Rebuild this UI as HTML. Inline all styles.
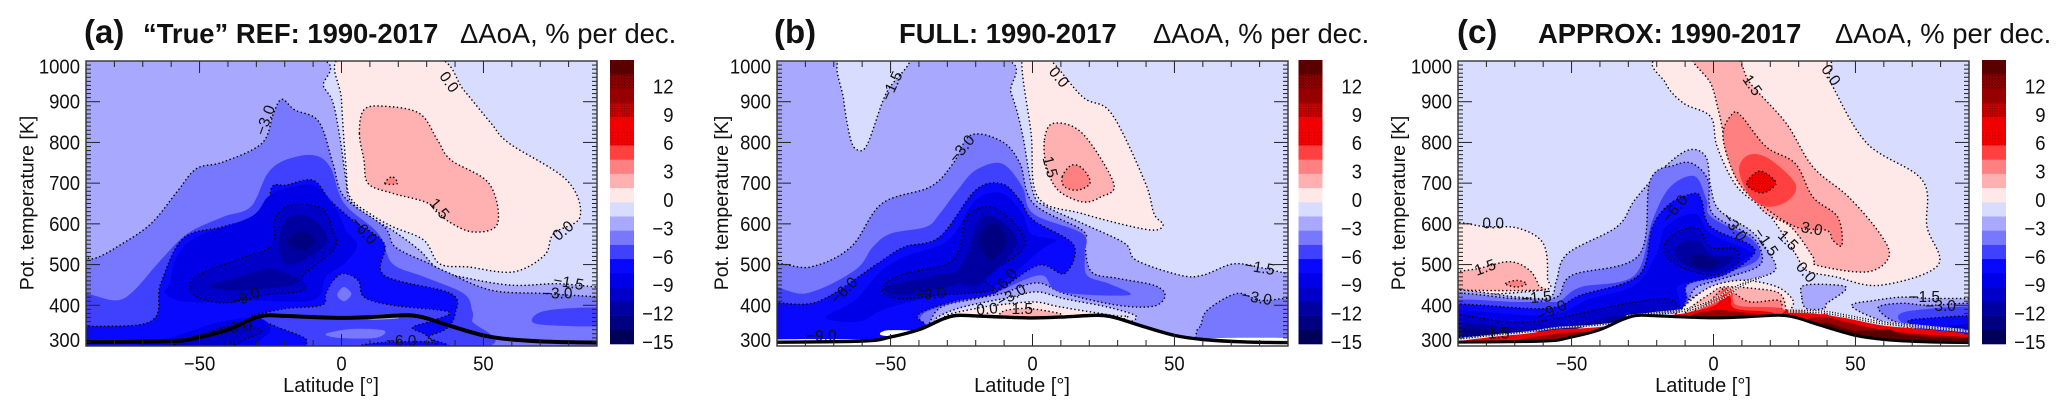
<!DOCTYPE html>
<html lang="en">
<head>
<meta charset="utf-8">
<title>Delta AoA trends 1990-2017</title>
<style>
html,body{margin:0;padding:0;background:#fff;width:2067px;height:415px;overflow:hidden}
svg{display:block}
text{font-family:"Liberation Sans",sans-serif;fill:#111}
</style>
</head>
<body>
<svg id="chart" xmlns="http://www.w3.org/2000/svg" width="2067" height="415" viewBox="0 0 2067 415">
<defs>
<pattern id="dither-a" width="3" height="3" patternUnits="userSpaceOnUse"><rect width="3" height="3" fill="#f00000"/><rect width="1" height="1" fill="#c00000"/></pattern>
<pattern id="dither-b" width="2.4" height="2.4" patternUnits="userSpaceOnUse"><rect width="2.4" height="2.4" fill="#c80000"/><rect width="1" height="1" fill="#780000"/></pattern>
<pattern id="dither-c" width="3" height="3" patternUnits="userSpaceOnUse"><rect width="3" height="3" fill="#860000"/><rect width="1" height="1" fill="#500000"/></pattern>
</defs>
</svg>
<script>
// ---- data ----
const latTickValues = [-50, 0, 50];
const thetaTickValues = [300, 400, 500, 600, 700, 800, 900, 1000];
const colorbarTickValues = [-15, -12, -9, -6, -3, 0, 3, 6, 9, 12];
const levelMin = -15;
const levelStep = 1.5;
const bandColors = ['#000058','#000080','#0000a0','#0000c8','#0000e8','#0808ff','#4040ff','#7878ff','#a8a8ff','#d8dcff','#ffe8e8','#ffb0b0','#ff8080','#ff4040','url(#dither-a)','#f00000','url(#dither-b)','#960000','url(#dither-c)','#5a0000'];
const tropopause = [[-96,309],[-60,312],[-50,322],[-40,340],[-32,365],[-27,375],[-20,374],[-10,371],[0,369],[10,371],[20,375],[25,375],[30,368],[38,350],[50,326],[60,316],[75,310],[96,308]];

// regions: [band mid value, dotted contour 0/1, [[lat, theta], ...]] painted in order
const regionsA = [
[-0.75,0,[[-96,280],[96,280],[96,1010],[-96,1010]]],
[-2.25,1,[[-11.8,1010],[-6.3,937],[-3.1,900],[-0.8,822],[1.6,707],[3,658],[10,617],[18,584],[27.5,535],[34.6,486],[44.8,466],[60.5,449],[76,453],[90,445],[96,445],[96,280],[-96,280],[-96,1010]]],
[-3.75,1,[[-96,507],[-87,515],[-78,548],[-67,601],[-57.5,683],[-51,736],[-41.7,752],[-28,798],[-24,871],[-21,906],[-16.5,880],[-8,851],[-3,748],[1,666],[15,593],[19,543],[31,502],[37,482],[52.7,437],[71.5,429],[90,421],[96,421],[96,280],[-96,280]]],
[-5.25,0,[[-96,429],[-90,429],[-79.4,412],[-73,437],[-63.7,511],[-54.2,576],[-41.7,617],[-32,642],[-26,724],[-19.7,757],[-10,769],[-4,740],[1,650],[13,576],[18,502],[29,470],[43,429],[46,388],[46,363],[43,290],[-96,290]]],
[-5.25,0,[[67,363],[73,388],[96,392],[96,352],[73,351]]],
[-6.75,1,[[-96,343],[-67.6,359],[-63.7,453],[-55.8,564],[-41.7,593],[-27.5,625],[-24.4,691],[-19.7,695],[-10,707],[-4,658],[4,609],[15,552],[15,474],[38.5,429],[40,379],[37,343],[30.7,322],[28,290],[-96,290]]],
[-5.25,1,[[-30.7,375],[-19.7,392],[-7,400],[-5.5,429],[-3,460],[0.8,478],[6,460],[8,420],[18,400],[37.7,384],[32,362],[25,345],[30,325],[30,290],[-8,290],[-13,320],[-22,345],[-31,372]]],
[-3.75,0,[[-1.5,425],[0.8,445],[3.5,428],[1,410]]],
[-3.75,0,[[-5.5,330],[4,342],[15,338],[12,320],[-1,320]]],
[-2.25,0,[[9,374],[16,378],[20,368],[10,365]]],
[-6.75,1,[[7,290],[10,306],[30.7,310],[32,290]]],
[-8.25,0,[[-75,290],[-60,320],[-45,355],[-30,370],[-25,340],[-30,305],[-28,290]]],
[-9.75,1,[[-52,322],[-42,345],[-33,350],[-28,335],[-33,320],[-42,295],[-60,295]]],
[-8.25,0,[[-60.5,453],[-58,519],[-51,568],[-32,617],[-26,666],[-19.7,687],[-10,695],[-3,650],[1.6,584],[5.5,548],[1,502],[-5.5,470],[-10,412],[-32,412],[-54,408],[-62,429]]],
[-9.75,1,[[-53.5,445],[-49.5,478],[-35.4,515],[-24.4,548],[-23.6,609],[-18,646],[-7,638],[-3,584],[-2.4,539],[-13.4,474],[-13.4,437],[-27.5,425],[-40,406],[-49.5,416]]],
[-11.25,0,[[-46.4,449],[-35.4,470],[-26,490],[-16.5,470],[-15.7,453],[-26,441],[-40,437]]],
[-11.25,0,[[-22,548],[-19.7,609],[-13.4,621],[-7,593],[-5.5,552],[-13.4,511],[-19.7,502]]],
[-12.75,0,[[-19,556],[-14,580],[-9.4,560],[-13.4,534]]],
[0.75,1,[[0,1010],[33,1010],[43,929],[52.7,847],[59,798],[79.4,707],[84,617],[74.7,576],[71.5,523],[60.5,482],[44.8,494],[34.6,502],[29,560],[18,593],[10,625],[3,666],[1.6,740],[0,904]]],
[2.25,1,[[6.3,822],[7.9,880],[15,889],[27.5,871],[33.8,806],[38.5,757],[52,699],[55,601],[46.4,580],[37,609],[30.7,650],[18,675],[9.4,699],[7.9,757]]],
[3.75,1,[[15.3,699],[17.8,716],[19.7,699]]]
];

const regionsB = [
[-0.75,0,[[-96,280],[96,280],[96,1010],[-96,1010]]],
[-2.25,1,[[-13.8,1010],[-7.5,920],[-3.6,822],[0.3,675],[5,642],[17.6,601],[32.5,552],[36.5,511],[52,474],[60,474],[71,502],[82,490],[90,478],[96,478],[96,280],[-96,280],[-96,1010]]],
[-0.75,1,[[-67.3,1010],[-66.5,904],[-64,806],[-61.3,781],[-58,798],[-51.6,920],[-43.7,1010]]],
[-3.75,1,[[-96,490],[-78.2,494],[-64,543],[-53,650],[-36,691],[-28,748],[-21.7,818],[-10.7,802],[-4.4,748],[0.3,650],[17.6,584],[18.4,548],[20.8,482],[30.2,466],[42.8,449],[46.7,425],[42.8,398],[30.2,400],[11.3,429],[1.6,455],[-10.7,429],[-20,416],[-32,396],[-36.6,351],[-39,290],[-96,290]]],
[-3.75,1,[[59.3,351],[61.6,388],[72,429],[80.5,412],[96,408],[96,280],[60,280],[57.7,330]]],
[-5.25,0,[[-96,445],[-80,429],[-62.6,486],[-56.3,543],[-50,576],[-37.4,593],[-32.7,625],[-26.4,683],[-20,732],[-10.7,748],[-3.6,691],[0.3,625],[17.6,576],[18.4,527],[19.2,474],[27,453],[34,425],[9.7,433],[2.7,474],[-13.8,429],[-26.4,408],[-37.4,384],[-39.8,359],[-38.2,338],[-53,290],[-96,290]]],
[-6.75,1,[[-96,400],[-76,408],[-54.7,502],[-45.3,543],[-32.7,568],[-20,683],[-10.7,698],[-4.4,658],[0.3,609],[14.5,548],[11.3,478],[1.9,498],[-13.8,429],[-26.4,412],[-37.4,388],[-40.6,371],[-38.2,343],[-53,290],[-96,290]]],
[-8.25,0,[[-72.8,371],[-62.6,412],[-53,486],[-43.7,523],[-29.6,560],[-20,658],[-10.7,675],[-3.6,625],[-0.5,576],[8.2,560],[3.5,539],[-13.8,445],[-32.7,425],[-51.6,392],[-59.4,363],[-65.7,359]]],
[-9.75,1,[[-53,437],[-46.9,474],[-28,511],[-23.3,617],[-13.8,640],[-4.4,584],[-3.6,535],[-17,470],[-13.8,437],[-32.7,425],[-46.9,416]]],
[-11.25,0,[[-27.2,470],[-23.3,519],[-18.6,609],[-13.8,617],[-7.5,584],[-6,543],[-17,461],[-23.3,449]]],
[-11.25,0,[[-51.6,445],[-42,461],[-28,478],[-26.4,453],[-42,429],[-50,429]]],
[-12.75,0,[[-18.6,552],[-16.2,593],[-12.3,599],[-9.1,556],[-14.6,512]]],
[-0.75,1,[[-34.3,359],[-26.4,392],[-7.5,420],[1.6,433],[11.3,416],[28.6,392],[36.5,367],[20,340],[-20,340]]],
[0.75,1,[[-31,371],[-20,392],[-10.7,402],[1,408],[9.7,396],[28.6,375],[33.3,371],[20,345],[-20,345]]],
[2.25,1,[[-10.7,384],[-4.4,392],[3.5,388],[10.5,375],[-1.3,363],[-10.7,367]]],
[0.75,1,[[-3.6,1010],[5,1010],[17.6,912],[27.8,871],[39.6,703],[42.8,625],[46,597],[40.4,586],[17.6,625],[1.9,666],[-0.5,822]]],
[2.25,1,[[4.2,806],[7.4,847],[17.6,822],[28.6,699],[24,666],[17.6,654],[9,683],[5,740]]],
[3.75,1,[[10.5,716],[13.7,744],[17.6,736],[20.3,701],[16,683],[11.3,691]]]
];

const whiteGapsB = [
[[-53,326],[-51.6,338],[-42,338],[-39,334],[-42,322]],
[[-96,315],[-55,315],[-55,300],[-96,300]],
[[60,318],[96,318],[96,300],[60,300]]
];

const lowerBlueEdgeC = [[-12,384],[-17,380],[-27.7,375],[-34.7,358],[-45.3,351],[-54.8,343],[-68.9,334],[-96,326]];

const regionsC = [
[-0.75,0,[[-96,280],[96,280],[96,1010],[-96,1010]]],
[0.75,1,[[-17.6,1010],[-16.8,945],[-10.5,896],[-1,863],[1.3,789],[8.3,691],[19.3,625],[28.8,527],[32.7,486],[42.9,470],[58.6,449],[79,498],[75.2,593],[73.6,707],[54,798],[41.4,945],[36.6,1010]]],
[2.25,1,[[-7.4,1010],[-1,945],[2,871],[5.2,789],[16.2,642],[27.2,593],[35,519],[36.6,498],[54,482],[61.8,519],[58.6,576],[47.6,666],[35,740],[25.6,847],[13,945],[7.5,1010]]],
[3.75,1,[[3.3,814],[6.8,871],[10,863],[18.6,789],[28.8,748],[35,666],[43.7,617],[45.3,548],[42,560],[39.8,584],[28.8,593],[16.2,650],[8.3,707]]],
[5.25,0,[[9,732],[12.3,769],[19.3,761],[28.8,699],[26.4,658],[19.3,642],[13,666]]],
[6.75,1,[[11.8,703],[15.4,728],[18.6,724],[22,699],[17.5,676],[13,687]]],
[0.75,1,[[-96,593],[-80,593],[-68.7,589],[-60,552],[-58.5,470],[-60.8,437],[-96,441]]],
[2.25,1,[[-96,474],[-83,490],[-71.8,507],[-64.8,486],[-61.6,449],[-62,437],[-96,441]]],
[3.75,1,[[-73.3,453],[-69.4,461],[-65.8,453],[-69.4,445]]],
[-2.25,1,[[-96,433],[-68.7,420],[-57.7,420],[-55.3,461],[-51.4,527],[-34,593],[-27.8,658],[-18.4,732],[-9,781],[-2.7,765],[-1,691],[2,634],[13,584],[18.6,539],[21.7,486],[11.5,461],[0.5,445],[-9,412],...lowerBlueEdgeC]],
[-3.75,1,[[-96,425],[-68.7,416],[-55.3,420],[-49.8,474],[-26.3,523],[-22.3,707],[-13.7,744],[-7.4,748],[-1.9,707],[-0.3,625],[13,572],[17,527],[15.4,494],[3.6,466],[-5.8,445],[-9,412],...lowerBlueEdgeC]],
[-5.25,0,[[-96,408],[-68.7,408],[-57.7,408],[-53.8,412],[-46.7,445],[-27.8,474],[-21.5,609],[-15.2,691],[-6.6,717],[-2.4,658],[-0.8,617],[13.8,560],[15.4,511],[2,474],[-9,449],[-9,412],...lowerBlueEdgeC]],
[-6.75,1,[[-96,400],[-59.3,392],[-46.7,425],[-26.3,474],[-21.5,593],[-15.2,650],[-6.6,675],[-4.2,658],[-1,593],[13,548],[13.4,519],[3.6,474],[-9,453],[-9.7,416],...lowerBlueEdgeC]],
[-8.25,0,[[-96,388],[-59.3,375],[-43.5,416],[-27.8,449],[-20,527],[-16.8,593],[-6.6,625],[-1,576],[12.3,535],[11.5,515],[-1,470],[-12,449],[-12,412],...lowerBlueEdgeC]],
[-9.75,1,[[-96,380],[-72,359],[-56,367],[-34,400],[-16.8,416],[-12,392],...lowerBlueEdgeC]],
[-9.75,1,[[-17.6,539],[-13.7,576],[-5.8,589],[-1,543],[7.5,539],[8.3,502],[-1,474],[-13.7,502]]],
[-11.25,0,[[-96,359],[-59,343],[-34,375],[-18,388],[-15,384],[-17,380],[-27.7,375],[-34.7,358],[-45.3,351],[-54.8,343],[-68.9,334],[-96,326]]],
[-12.75,0,[[-96,345],[-59,335],[-40,355],[-30,370],[-34.7,358],[-45.3,351],[-54.8,343],[-68.9,334],[-96,326]]],
[-11.25,0,[[-13.7,535],[-10.5,556],[-5,556],[-1,523],[6.8,519],[3.6,494],[-2.7,482],[-10.5,502]]],
[-12.75,0,[[-8.2,515],[-4.2,523],[2,507],[-1,491],[-6.6,494]]],
[-2.25,1,[[31.1,420],[32,449],[44.5,449],[46.4,437],[39.8,404],[39,392],[32.7,392]]],
[-2.25,1,[[48.7,400],[56.8,412],[66.3,420],[75.5,417],[96,407],[96,326],[68.5,346],[55.8,371]]],
[-3.75,1,[[58,393],[66,405],[75.5,400],[96,400],[96,326],[67.4,352]]],
[-5.25,0,[[65,370],[71,388],[96,393],[96,330],[72,343]]],
[-6.75,1,[[68.5,360],[75.5,368],[96,372],[96,330],[75,340]]],
[-9.75,0,[[80,345],[96,355],[96,328]]],
[0.75,1,[[-12,384],[-5,429],[2,453],[11.5,461],[22.5,445],[28,412],[27,384],[27,360],[-12,360]]],
[2.25,1,[[-9,388],[-1,429],[3.6,445],[14.6,441],[23.3,429],[25.6,388],[25.6,360],[-9,360]]],
[3.75,1,[[-1,412],[3.6,441],[7.5,429],[13,408],[23,412],[24,388],[24,360],[-9,360]]],
[5.25,0,[[-5,388],[1.3,420],[3.6,439],[6.8,437],[8.3,400],[24,392],[24,360],[-5,360]]],
[8.25,0,[[-17,372],[-9,382],[0.5,400],[3.6,425],[6,420],[7.5,392],[19.3,384],[22,375],[22,350],[-17,350]]],
[11.25,0,[[-8,375],[0.5,388],[8.3,384],[16,375],[16,350],[-8,350]]],
[8.25,0,[[25,385],[38,378],[39,398],[40,378],[47,368],[59,351],[71,343],[88,332],[96,326],[96,290],[25,290]]],
[11.25,0,[[32,360],[40,370],[47,358],[59,340],[71,330],[88,322],[96,318],[96,290],[30,290]]],
[14.25,0,[[38,355],[50,338],[61,341],[66,331],[78,321],[96,316],[96,290],[38,290]]],
[8.25,0,[[-96,305],[-78,322],[-66,330],[-55,341],[-45,344],[-35,351],[-31,362],[-28,372],[-28,290],[-96,290]]],
[11.25,0,[[-70,312],[-55,330],[-45,335],[-35,342],[-30,345],[-30,290],[-70,290]]]
];

const denseContoursC = [
[[-31,374],[-20,382],[-9,392],[1,418],[6,440],[14,465]],
[[-26,374],[-14,382],[-6,392],[4,420],[10,448],[18,472]],
[[26,388],[38,386],[47,376],[59,360],[71,351],[88,340],[96,336]],
[[26,384],[38,381],[47,371],[59,355],[71,347],[88,336],[96,331]],
[[-96,312],[-78,326],[-66,334],[-55,345],[-45,349],[-35,356],[-30,368]]
];

// contour labels: [text, lat, theta, rotation]
const labelsA = [['−3.0',-27,855,-70],['0.0',38,949,55],['1.5',34.6,638,50],['0.0',78,584,-40],['−6.0',8,584,50],['−1.5',80,457,10],['−3.0',76,430,0],['−9.0',-34,420,-20],['−9.0',-37,347,-10],['−6.0',21,314,0]];
const labelsB = [['−1.5',-49.7,939,-65],['0.0',9.4,961,50],['−3.0',-25,785,-50],['1.5',6.3,740,75],['−6.0',-66.5,437,-45],['−9.0',-36,429,-5],['−6.0',-10,457,-50],['−3.0',-7.5,425,-30],['0.0',-16,392,-5],['1.5',-3.6,392,0],['−1.5',80,494,10],['−3.0',79,420,10],['−9.0',-74.4,326,0]];
const labelsC = [['0.0',41.5,966,55],['1.5',13.8,941,55],['−6.0',-13.7,638,-50],['3.0',34.7,589,10],['1.5',26.4,560,45],['−1.5',18.6,556,55],['−3.0',7.5,593,55],['0.0',32.7,482,50],['0.0',-77.6,602,0],['1.5',-80.5,494,-20],['−1.5',-62.4,420,-5],['−9.0',-57,388,-25],['1.5',-75.7,332,0],['−1.5',74.4,422,0],['−3.0',80,400,0]];

// ---- layout ----
const panels = [
 {id:'a',left:86,letterX:84,letter:'(a)',title:'“True” REF: 1990-2017',titleX:143,unitX:460,barLeft:610,yTitleX:33.5,regions:regionsA,labels:labelsA,mask:false,gaps:[],dense:[],lineW:4},
 {id:'b',left:777,letterX:774,letter:'(b)',title:'FULL: 1990-2017',titleX:899,unitX:1153,barLeft:1298.5,yTitleX:728,regions:regionsB,labels:labelsB,mask:true,gaps:whiteGapsB,dense:[],lineW:3.4},
 {id:'c',left:1458,letterX:1457,letter:'(c)',title:'APPROX: 1990-2017',titleX:1538,unitX:1835,barLeft:1982,yTitleX:1405,regions:regionsC,labels:labelsC,mask:true,gaps:[],dense:denseContoursC,lineW:3}
];
const plotW = 511, plotTop = 61, plotBottom = 346, barW = 24, barTop = 60, barBottom = 344;
const tickFont = 20, tickSqueeze = 0.925;
const NS = 'http://www.w3.org/2000/svg';
const root = document.getElementById('chart');

function el(tag, attrs, parent, txt){
  const n = document.createElementNS(NS, tag);
  for (const k in attrs) n.setAttribute(k, attrs[k]);
  if (txt !== undefined) n.textContent = txt;
  parent.appendChild(n);
  return n;
}
function xScale(panel, lat){ return panel.left + (lat + 90) * plotW / 180; }
function yScale(theta){ return plotBottom - (theta - 300) * (plotBottom - plotTop) / 700; }
function barScale(v){ return barBottom - (v - levelMin) * (barBottom - barTop) / (levelStep * bandColors.length); }
function bandFill(v){ return bandColors[Math.max(0, Math.min(bandColors.length - 1, Math.floor((v - levelMin) / levelStep)))]; }
function smoothPath(pts, closed){
  const n = pts.length;
  let d = 'M' + pts[0][0].toFixed(1) + ' ' + pts[0][1].toFixed(1);
  const last = closed ? n : n - 1;
  for (let i = 0; i < last; i++){
    const p0 = closed ? pts[(i - 1 + n) % n] : pts[Math.max(i - 1, 0)];
    const p1 = pts[i % n];
    const p2 = pts[(i + 1) % n];
    const p3 = closed ? pts[(i + 2) % n] : pts[Math.min(i + 2, n - 1)];
    const c1x = p1[0] + (p2[0] - p0[0]) / 6, c1y = p1[1] + (p2[1] - p0[1]) / 6;
    const c2x = p2[0] - (p3[0] - p1[0]) / 6, c2y = p2[1] - (p3[1] - p1[1]) / 6;
    d += 'C' + c1x.toFixed(1) + ' ' + c1y.toFixed(1) + ' ' + c2x.toFixed(1) + ' ' + c2y.toFixed(1) + ' ' + p2[0].toFixed(1) + ' ' + p2[1].toFixed(1);
  }
  return closed ? d + 'Z' : d;
}
function toPx(panel, pts){ return pts.map(function(p){ return [xScale(panel, p[0]), yScale(p[1])]; }); }
function fmt(v){ return String(v).replace('-', '−'); }
function squeezed(x, y){ return 'translate(' + x.toFixed(1) + ' ' + y.toFixed(1) + ') scale(' + tickSqueeze + ' 1)'; }

panels.forEach(function(panel){
  const g = el('g', {}, root);
  
  

  const clip = el('clipPath', {id:'clip-' + panel.id}, g);
  el('rect', {x:panel.left, y:plotTop, width:plotW, height:plotBottom - plotTop}, clip);

  const plot = el('g', {'clip-path':'url(#clip-' + panel.id + ')'}, g);
  
  

  panel.regions.forEach(function(r){
    const d = smoothPath(toPx(panel, r[2]), true);
    const shape = el('path', {d:d, fill:bandFill(r[0])}, plot);
    
    
    if (r[1]) {
      const line = el('path', {d:d, fill:'none', stroke:'#000', 'stroke-width':1.4, 'stroke-dasharray':'1.4 2.5'}, plot);
      
      
    }
  });

  panel.dense.forEach(function(c){
    const d = smoothPath(toPx(panel, c), false);
    const under = el('path', {d:d, fill:'none', stroke:'#fff', 'stroke-width':1.6, opacity:0.8}, plot);
    
    
    const over = el('path', {d:d, fill:'none', stroke:'#111', 'stroke-width':1.3, 'stroke-dasharray':'1.2 1.6'}, plot);
    
    
  });

  const tropoPx = toPx(panel, tropopause);
  if (panel.mask) {
    const maskPts = tropoPx.concat([[panel.left + plotW + 20, plotBottom + 20], [panel.left - 20, plotBottom + 20]]);
    const mask = el('path', {d:smoothPath(tropoPx, false) + 'L' + maskPts[maskPts.length - 2].join(' ') + 'L' + maskPts[maskPts.length - 1].join(' ') + 'Z', fill:'#fff'}, plot);
    
    
    panel.gaps.forEach(function(gp){
      const gap = el('path', {d:smoothPath(toPx(panel, gp), true), fill:'#fff'}, plot);
      
      
    });
  }

  panel.labels.forEach(function(l){
    const px = xScale(panel, l[1]), py = yScale(l[2]);
    const t = el('text', {x:px, y:py + 5.5, 'text-anchor':'middle', 'font-size':15.5, transform:'rotate(' + l[3] + ' ' + px.toFixed(1) + ' ' + py.toFixed(1) + ')'}, plot, l[0]);
    
    
  });

  const tropoLine = el('path', {d:smoothPath(tropoPx, false), fill:'none', stroke:'#000', 'stroke-width':panel.lineW}, plot);
  
  

  // ticks
  const ticks = el('g', {stroke:'#222', 'stroke-width':1, fill:'none'}, g);
  
  
  for (let lat = -90; lat <= 90; lat += 10){
    const x = xScale(panel, lat), len = latTickValues.indexOf(lat) >= 0 ? 12 : 6;
    el('line', {x1:x, x2:x, y1:plotBottom, y2:plotBottom - len}, ticks);
    el('line', {x1:x, x2:x, y1:plotTop, y2:plotTop + len}, ticks);
  }
  for (let th = 300; th <= 1000; th += 10){
    const y = yScale(th), len = thetaTickValues.indexOf(th) >= 0 ? 14 : 5;
    el('line', {x1:panel.left, x2:panel.left + len, y1:y, y2:y}, ticks);
    el('line', {x1:panel.left + plotW, x2:panel.left + plotW - len, y1:y, y2:y}, ticks);
  }
  const frame = el('rect', {x:panel.left, y:plotTop, width:plotW, height:plotBottom - plotTop, fill:'none', stroke:'#333', 'stroke-width':1.4}, g);
  
  

  // tick labels
  latTickValues.forEach(function(v){
    const t = el('text', {'text-anchor':'middle', 'font-size':tickFont, transform:squeezed(xScale(panel, v), 370.5)}, g, fmt(v));
    
    
  });
  thetaTickValues.forEach(function(v){
    const base = Math.max(plotTop + 12.5, Math.min(plotBottom + 1, yScale(v) + 7));
    const t = el('text', {'text-anchor':'end', 'font-size':tickFont, transform:squeezed(panel.left - 6, base)}, g, fmt(v));
    
    
  });
  const xTitle = el('text', {x:panel.left + 245, y:392, 'text-anchor':'middle', 'font-size':20}, g, 'Latitude [°]');
  
  
  const yTitle = el('text', {x:panel.yTitleX, y:203, 'text-anchor':'middle', 'font-size':19.5, transform:'rotate(-90 ' + panel.yTitleX + ' 203)'}, g, 'Pot. temperature [K]');
  
  

  // titles
  const letter = el('text', {x:panel.letterX, y:43, 'font-size':33, 'font-weight':'bold'}, g, panel.letter);
  
  
  const title = el('text', {x:panel.titleX, y:43, 'font-size':27.4, 'font-weight':'bold'}, g, panel.title);
  
  
  const unit = el('text', {x:panel.unitX, y:43, 'font-size':27.4}, g, 'ΔAoA, % per dec.');
  
  

  // colorbar
  const bar = el('g', {}, g);
  
  
  bandColors.forEach(function(c, i){
    const top = barScale(levelMin + (i + 1) * levelStep), bot = barScale(levelMin + i * levelStep);
    const r = el('rect', {x:panel.barLeft, y:top, width:barW, height:bot - top + 0.3, fill:c}, bar);
    
    
  });
  colorbarTickValues.forEach(function(v){
    const t = el('text', {'text-anchor':'end', 'font-size':tickFont, transform:squeezed(panel.barLeft + 63.5, barScale(v) + 5)}, bar, fmt(v));
    
    
  });
});
</script>
</body>
</html>
